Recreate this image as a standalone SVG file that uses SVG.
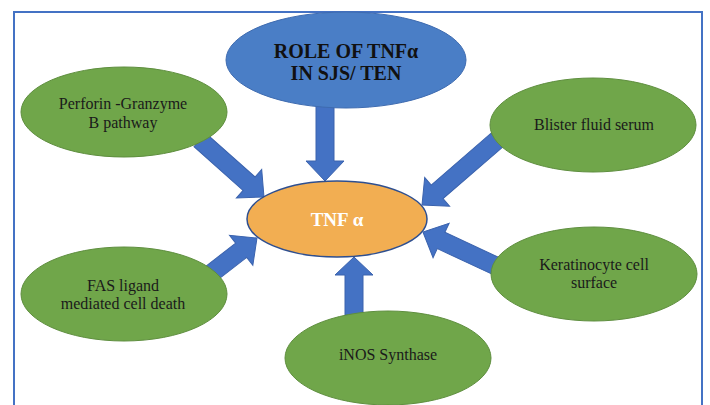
<svg xmlns="http://www.w3.org/2000/svg" width="710" height="405" viewBox="0 0 710 405">
<style>
.frame{fill:none;stroke:#4472C4;stroke-width:2}
.arrow{fill:#4472C4;stroke:#3A62AD;stroke-width:1}
.green{fill:#70A64A;stroke:#5E8E3E;stroke-width:1}
.blue{fill:#4A7EC6;stroke:#3E6BB0;stroke-width:1}
.orange{fill:#F2AE52;stroke:#2F4F8F;stroke-width:1.5}
.lbl{font-family:"Liberation Serif","Times New Roman",serif;font-size:16px;fill:#1a1a1a;text-anchor:middle}
.title{font-family:"Liberation Serif","Times New Roman",serif;font-size:20px;font-weight:bold;fill:#111;text-anchor:middle}
.center{font-family:"Liberation Serif","Times New Roman",serif;font-size:19px;font-weight:bold;fill:#fff;text-anchor:middle}
</style>
<rect x="0" y="0" width="710" height="405" fill="#fff"/>
<rect class="frame" x="14" y="12" width="688" height="400"/>
<g id="connectors">
<path class="arrow" transform="translate(325,106) rotate(90)" d="M0,-9 H55 V-19 L75,0 L55,19 V9 H0 Z"/>
<path class="arrow" transform="translate(200,140) rotate(41.7)" d="M0,-9 H65.7 V-19 L85.7,0 L65.7,19 V9 H0 Z"/>
<path class="arrow" transform="translate(497,140) rotate(139.1)" d="M0,-9 H79.2 V-19 L99.2,0 L79.2,19 V9 H0 Z"/>
<path class="arrow" transform="translate(208,276) rotate(-37.8)" d="M0,-9 H42 V-19 L62,0 L42,19 V9 H0 Z"/>
<path class="arrow" transform="translate(498,267) rotate(205)" d="M0,-9 H62.8 V-19 L82.8,0 L62.8,19 V9 H0 Z"/>
<path class="arrow" transform="translate(354,315) rotate(-90)" d="M0,-9 H40 V-19 L58,0 L40,19 V9 H0 Z"/>
</g>
<g id="role">
<ellipse class="blue" cx="346" cy="60" rx="120" ry="48"/>
<text class="title" x="346" y="58">ROLE OF TNFα</text>
<text class="title" x="346" y="80">IN SJS/ TEN</text>
</g>
<g id="perforin">
<ellipse class="green" cx="124" cy="112" rx="103" ry="45"/>
<text class="lbl" x="123" y="109">Perforin -Granzyme</text>
<text class="lbl" x="123" y="128">B pathway</text>
</g>
<g id="blister">
<ellipse class="green" cx="593" cy="125" rx="103" ry="47"/>
<text class="lbl" x="594" y="130">Blister fluid serum</text>
</g>
<g id="fas">
<ellipse class="green" cx="124" cy="294" rx="103" ry="47"/>
<text class="lbl" x="123" y="291">FAS ligand</text>
<text class="lbl" x="123" y="309">mediated cell death</text>
</g>
<g id="keratinocyte">
<ellipse class="green" cx="594" cy="274" rx="103" ry="47"/>
<text class="lbl" x="594" y="270">Keratinocyte cell</text>
<text class="lbl" x="594" y="288">surface</text>
</g>
<g id="inos">
<ellipse class="green" cx="388" cy="358" rx="103" ry="47"/>
<text class="lbl" x="388" y="360">iNOS Synthase</text>
</g>
<g id="tnf">
<ellipse class="orange" cx="337" cy="219" rx="90" ry="38"/>
<text class="center" x="337" y="226">TNF α</text>
</g>
</svg>
